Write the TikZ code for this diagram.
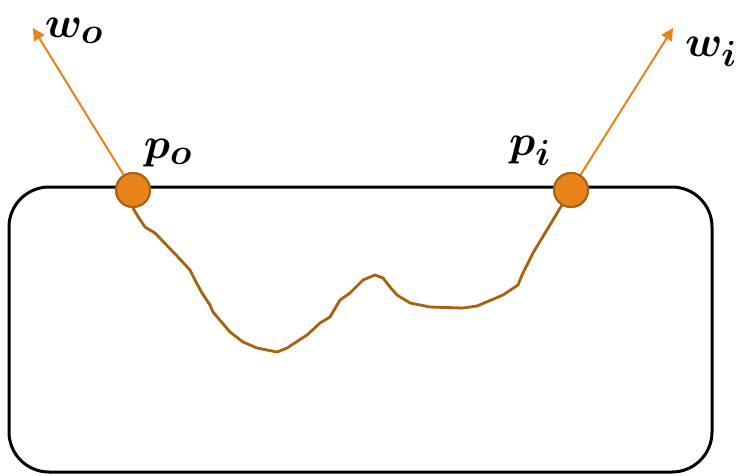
\documentclass[tikz,border=0pt]{standalone}
\usepackage{amsmath,bm,graphicx}
\usetikzlibrary{arrows.meta}
\definecolor{orfill}{HTML}{E8821A}
\definecolor{ordraw}{HTML}{A8620E}
\definecolor{pathc}{HTML}{A8620E}
\newcommand{\biglbl}[1]{\scalebox{1.75}{\Huge$\bm{#1}$}}
\tikzset{
  pt/.style={circle,fill=orfill,draw=ordraw,line width=2pt,minimum size=34pt,inner sep=0pt},
  dirarrow/.style={draw=orfill,line width=2pt,-{Triangle[length=12pt,width=12pt]}},
  lbl/.style={inner sep=0pt},
}
\begin{document}
\begin{tikzpicture}[x=1pt,y=-1pt]
\useasboundingbox (0,0) rectangle (738,475);
\draw[line width=3pt,rounded corners=40pt] (9,187) rectangle (712,472);
\coordinate (wo) at (33,28);
\coordinate (wi) at (673,28);
\node[pt] (po) at (133,190) {};
\node[pt] (pi) at (571,190) {};
\draw[dirarrow] (po) -- (wo);
\draw[dirarrow] (pi) -- (wi);
\node[lbl] (lwo) at (74,31) {\biglbl{w_o}};
\node[lbl] (lwi) at (711,52) {\biglbl{w_i}};
\node[lbl] (lpo) at (168,153) {\biglbl{p_o}};
\node[lbl] (lpi) at (530,151) {\biglbl{p_i}};
\draw[pathc,line width=2.8pt,line join=round] (po.south) -- (137,215) -- (145,227) -- (155,233) -- (178,257) -- (190,270) -- (195,280) -- (202,293) -- (210,305) -- (213,312) -- (230,332) -- (243,342) -- (257,348) -- (277,352) -- (287,348) -- (307,335) -- (320,323) -- (330,317) -- (340,300) -- (350,293) -- (363,280) -- (375,275) -- (383,278) -- (390,287) -- (397,295) -- (410,303) -- (430,307) -- (463,308) -- (477,306) -- (503,295) -- (518,285) -- (522,275) -- (533,253) -- (pi);
\node[pt] at (po) {};
\node[pt] at (pi) {};
\end{tikzpicture}
\end{document}
